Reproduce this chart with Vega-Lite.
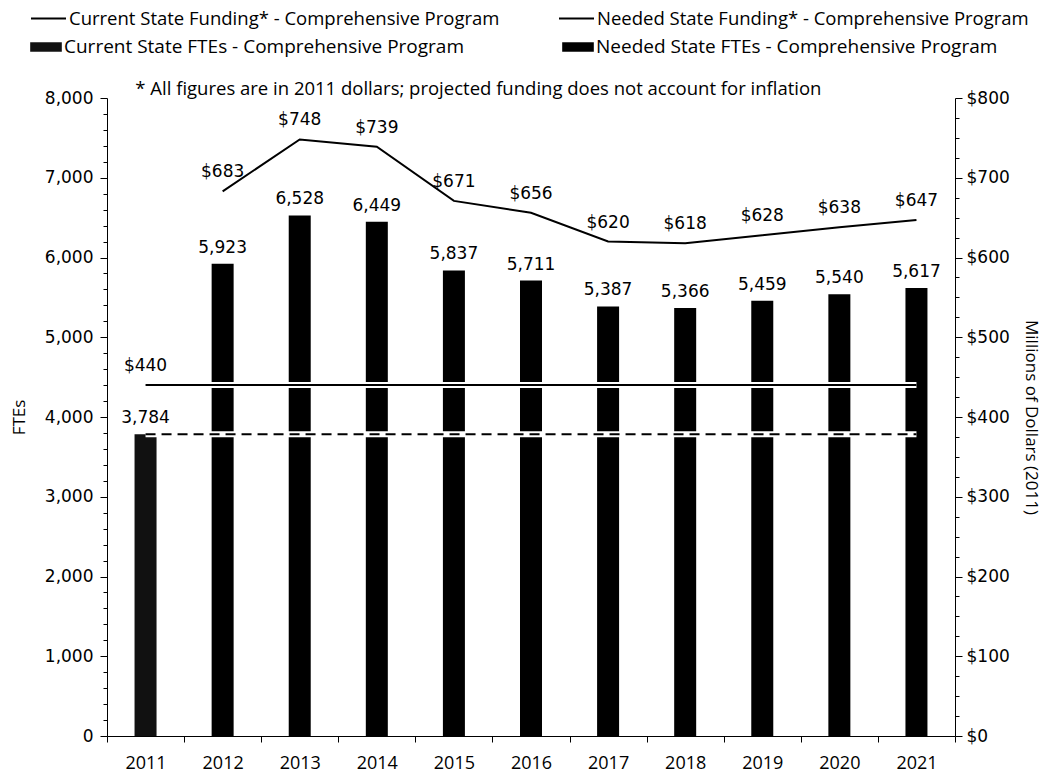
{
  "$schema": "https://vega.github.io/schema/vega-lite/v6.json",
  "width": 848,
  "height": 638,
  "autosize": {"type": "none"},
  "padding": {"left": 107, "top": 98, "right": 89, "bottom": 41},
  "background": "white",
  "title": {
    "text": "* All figures are in 2011 dollars; projected funding does not account for inflation",
    "anchor": "start", "dx": 125, "dy": 101, "offset": 3,
    "font": "Open Sans", "fontSize": 18.5, "fontWeight": "normal", "color": "black"
  },
  "config": {
    "view": {"stroke": null},
    "axis": {"domainColor": "black", "tickColor": "black", "labelColor": "black", "titleColor": "black", "grid": false, "labelOverlap": false, "labelFlush": false}
  },
  "datasets": {
    "ftes": [
      {"year": 2011, "series": "Current State FTEs - Comprehensive Program", "fte": 3784},
      {"year": 2012, "series": "Needed State FTEs - Comprehensive Program", "fte": 5923},
      {"year": 2013, "series": "Needed State FTEs - Comprehensive Program", "fte": 6528},
      {"year": 2014, "series": "Needed State FTEs - Comprehensive Program", "fte": 6449},
      {"year": 2015, "series": "Needed State FTEs - Comprehensive Program", "fte": 5837},
      {"year": 2016, "series": "Needed State FTEs - Comprehensive Program", "fte": 5711},
      {"year": 2017, "series": "Needed State FTEs - Comprehensive Program", "fte": 5387},
      {"year": 2018, "series": "Needed State FTEs - Comprehensive Program", "fte": 5366},
      {"year": 2019, "series": "Needed State FTEs - Comprehensive Program", "fte": 5459},
      {"year": 2020, "series": "Needed State FTEs - Comprehensive Program", "fte": 5540},
      {"year": 2021, "series": "Needed State FTEs - Comprehensive Program", "fte": 5617}
    ],
    "curfte": [
      {"year": 2011, "fte": 3784}, {"year": 2012, "fte": 3784}, {"year": 2013, "fte": 3784},
      {"year": 2014, "fte": 3784}, {"year": 2015, "fte": 3784}, {"year": 2016, "fte": 3784},
      {"year": 2017, "fte": 3784}, {"year": 2018, "fte": 3784}, {"year": 2019, "fte": 3784},
      {"year": 2020, "fte": 3784}, {"year": 2021, "fte": 3784}
    ],
    "funding": [
      {"year": 2011, "series": "Current State Funding* - Comprehensive Program", "funding": 440},
      {"year": 2012, "series": "Current State Funding* - Comprehensive Program", "funding": 440},
      {"year": 2013, "series": "Current State Funding* - Comprehensive Program", "funding": 440},
      {"year": 2014, "series": "Current State Funding* - Comprehensive Program", "funding": 440},
      {"year": 2015, "series": "Current State Funding* - Comprehensive Program", "funding": 440},
      {"year": 2016, "series": "Current State Funding* - Comprehensive Program", "funding": 440},
      {"year": 2017, "series": "Current State Funding* - Comprehensive Program", "funding": 440},
      {"year": 2018, "series": "Current State Funding* - Comprehensive Program", "funding": 440},
      {"year": 2019, "series": "Current State Funding* - Comprehensive Program", "funding": 440},
      {"year": 2020, "series": "Current State Funding* - Comprehensive Program", "funding": 440},
      {"year": 2021, "series": "Current State Funding* - Comprehensive Program", "funding": 440},
      {"year": 2012, "series": "Needed State Funding* - Comprehensive Program", "funding": 683},
      {"year": 2013, "series": "Needed State Funding* - Comprehensive Program", "funding": 748},
      {"year": 2014, "series": "Needed State Funding* - Comprehensive Program", "funding": 739},
      {"year": 2015, "series": "Needed State Funding* - Comprehensive Program", "funding": 671},
      {"year": 2016, "series": "Needed State Funding* - Comprehensive Program", "funding": 656},
      {"year": 2017, "series": "Needed State Funding* - Comprehensive Program", "funding": 620},
      {"year": 2018, "series": "Needed State Funding* - Comprehensive Program", "funding": 618},
      {"year": 2019, "series": "Needed State Funding* - Comprehensive Program", "funding": 628},
      {"year": 2020, "series": "Needed State Funding* - Comprehensive Program", "funding": 638},
      {"year": 2021, "series": "Needed State Funding* - Comprehensive Program", "funding": 647}
    ]
  },
  "encoding": {
    "x": {
      "field": "year", "type": "ordinal",
      "scale": {"domain": [2011, 2012, 2013, 2014, 2015, 2016, 2017, 2018, 2019, 2020, 2021], "paddingInner": 0, "paddingOuter": 0},
      "axis": {"title": null, "tickBand": "extent", "labelFont": "Open Sans", "labelFontSize": 18, "labelAngle": 0, "tickSize": 6, "labelPadding": 12}
    }
  },
  "layer": [
    {
      "data": {"name": "ftes"},
      "mark": {"type": "bar", "width": 22},
      "encoding": {
        "y": {
          "field": "fte", "type": "quantitative",
          "scale": {"domain": [0, 8000]},
          "axis": {
            "orient": "left", "title": "FTEs", "titleFont": "Open Sans", "titleFontSize": 17, "titleFontWeight": "normal", "titlePadding": 16,
            "values": [0,200,400,600,800,1000,1200,1400,1600,1800,2000,2200,2400,2600,2800,3000,3200,3400,3600,3800,4000,4200,4400,4600,4800,5000,5200,5400,5600,5800,6000,6200,6400,6600,6800,7000,7200,7400,7600,7800,8000],
            "labelExpr": "datum.value % 1000 === 0 ? format(datum.value, ',') : ''",
            "tickSize": {"condition": {"test": "datum.value % 1000 === 0", "value": 7}, "value": 4},
            "labelFont": "DejaVu Sans", "labelFontSize": 17, "labelPadding": 7
          }
        },
        "fill": {
          "field": "series", "type": "nominal",
          "scale": {"domain": ["Current State FTEs - Comprehensive Program", "Needed State FTEs - Comprehensive Program"], "range": ["#111111", "#000000"]},
          "legend": {
            "title": null, "orient": "none", "legendX": -77, "legendY": -67, "direction": "horizontal", "columns": 2, "columnPadding": 98,
            "symbolType": "M-1,-0.3H1V0.3H-1Z", "symbolSize": 1000, "symbolStrokeWidth": 0,
            "labelFont": "Open Sans", "labelFontSize": 19, "labelColor": "black", "labelOffset": 2, "labelLimit": 600
          }
        }
      }
    },
    {
      "data": {"name": "ftes"},
      "mark": {"type": "text", "baseline": "bottom", "dy": -7, "font": "DejaVu Sans", "fontSize": 17, "color": "black"},
      "encoding": {
        "y": {"field": "fte", "type": "quantitative", "scale": {"domain": [0, 8000]}, "axis": null},
        "text": {"field": "fte", "type": "quantitative", "format": ","}
      }
    },
    {
      "data": {"name": "curfte"},
      "mark": {"type": "line", "stroke": "white", "strokeWidth": 6},
      "encoding": {
        "y": {"field": "fte", "type": "quantitative", "scale": {"domain": [0, 8000]}, "axis": null}
      }
    },
    {
      "data": {"name": "curfte"},
      "mark": {"type": "line", "stroke": "black", "strokeWidth": 2, "strokeDash": [10, 6]},
      "encoding": {
        "y": {"field": "fte", "type": "quantitative", "scale": {"domain": [0, 8000]}, "axis": null}
      }
    },
    {
      "data": {"name": "funding"},
      "mark": {"type": "line", "stroke": "white", "strokeWidth": 6},
      "encoding": {
        "y": {"field": "funding", "type": "quantitative", "scale": {"domain": [0, 800]}, "axis": null},
        "detail": {"field": "series", "type": "nominal"}
      }
    },
    {
      "data": {"name": "funding"},
      "mark": {"type": "line", "strokeWidth": 2},
      "encoding": {
        "y": {
          "field": "funding", "type": "quantitative",
          "scale": {"domain": [0, 800]},
          "axis": {
            "orient": "right", "title": "Millions of Dollars (2011)", "titleFont": "Open Sans", "titleFontSize": 17, "titleFontWeight": "normal", "titlePadding": 12,
            "values": [0,25,50,75,100,125,150,175,200,225,250,275,300,325,350,375,400,425,450,475,500,525,550,575,600,625,650,675,700,725,750,775,800],
            "labelExpr": "datum.value % 100 === 0 ? '$' + datum.value : ''",
            "tickSize": {"condition": {"test": "datum.value % 100 === 0", "value": 7}, "value": 4},
            "labelFont": "DejaVu Sans", "labelFontSize": 17, "labelPadding": 4
          }
        },
        "stroke": {
          "field": "series", "type": "nominal",
          "scale": {"domain": ["Current State Funding* - Comprehensive Program", "Needed State Funding* - Comprehensive Program"], "range": ["#000000", "#000000"]},
          "legend": {
            "title": null, "orient": "none", "legendX": -77, "legendY": -98, "direction": "horizontal", "columns": 2, "columnPadding": 55,
            "symbolType": "stroke", "symbolSize": 1225, "symbolStrokeWidth": 2,
            "labelFont": "Open Sans", "labelFontSize": 18.5, "labelColor": "black", "labelOffset": 2, "labelLimit": 600
          }
        }
      }
    },
    {
      "data": {"name": "funding"},
      "transform": [{"filter": "datum.series == 'Needed State Funding* - Comprehensive Program' || datum.year == 2011"}],
      "mark": {"type": "text", "baseline": "bottom", "dy": -10, "font": "DejaVu Sans", "fontSize": 17, "color": "black"},
      "encoding": {
        "y": {"field": "funding", "type": "quantitative", "scale": {"domain": [0, 800]}, "axis": null},
        "text": {"field": "funding", "type": "quantitative", "format": "$,.0f"}
      }
    }
  ],
  "resolve": {"scale": {"y": "independent"}}
}
